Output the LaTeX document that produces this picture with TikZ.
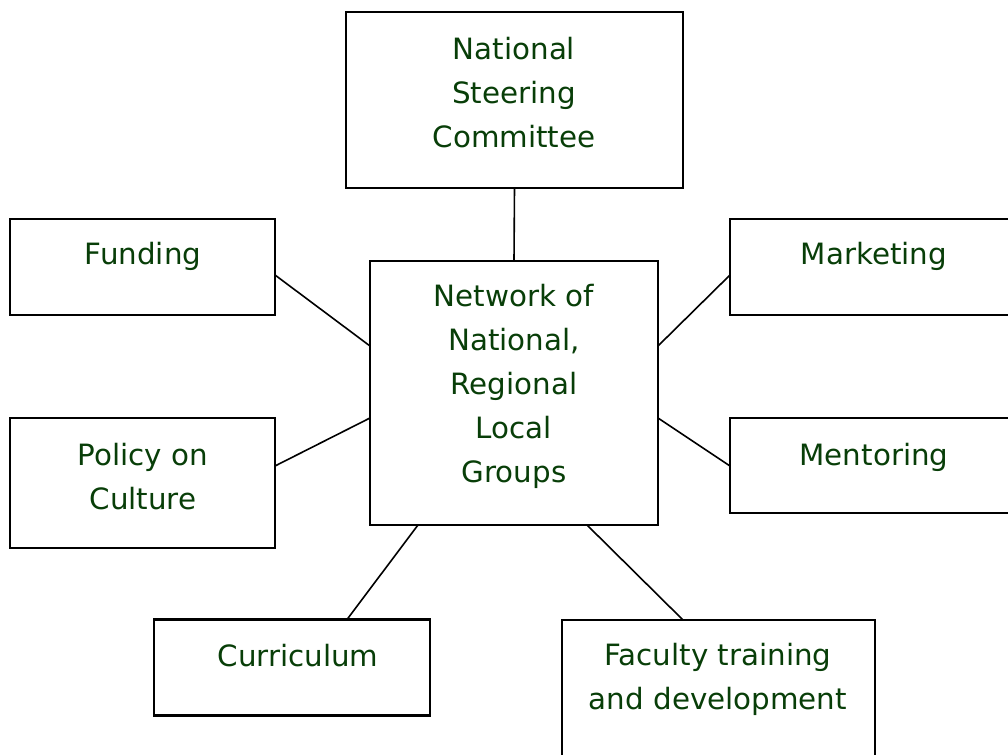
\documentclass[tikz,border=0pt]{standalone}
\usepackage{fontspec}
\setmainfont{DejaVu Sans}
\definecolor{labelgreen}{RGB}{8,62,8}
\begin{document}
\begin{tikzpicture}[x=0.75pt,y=-0.75pt,
  box/.style={draw=black,line width=1.8pt,fill=none,inner sep=0pt,outer sep=0pt},
  txt/.style={text=labelgreen,align=center,inner sep=0pt,anchor=base,
    font=\fontsize{22}{33}\selectfont},
  link/.style={draw=black,line width=1.2pt}]
\useasboundingbox (0,0) rectangle (1008,755);
\clip (0,0) rectangle (1008,755);
% boxes, sized and centred in pixel units
\node[box,minimum width=337*0.75pt,minimum height=176*0.75pt] (nsc) at (514.5,100) {};
\node[box,minimum width=288*0.75pt,minimum height=264*0.75pt] (net) at (514,393) {};
\node[box,minimum width=265*0.75pt,minimum height=96*0.75pt] (fund) at (142.5,267) {};
\node[box,minimum width=265*0.75pt,minimum height=130*0.75pt] (pol) at (142.5,483) {};
\node[box,minimum width=290*0.75pt,minimum height=96*0.75pt] (mkt) at (875,267) {};
\node[box,minimum width=290*0.75pt,minimum height=95*0.75pt] (men) at (875,465.5) {};
\node[box,minimum width=276*0.75pt,minimum height=96*0.75pt] (cur) at (292,667.5) {};
\node[box,minimum width=313*0.75pt,minimum height=170*0.75pt] (fac) at (718.5,705) {};
% labels, placed by the baseline of their last line
\node[txt] (tnsc) at (514,148) {National\\Steering\\Committee};
\node[txt] (tnet) at (514,483) {Network of\\National,\\Regional\\Local\\Groups};
\node[txt] (tfund) at (143,265) {Funding};
\node[txt] (tpol) at (143,510) {Policy on\\Culture};
\node[txt] (tmkt) at (874,265) {Marketing};
\node[txt] (tmen) at (874,466) {Mentoring};
\node[txt] (tcur) at (298,667) {Curriculum};
\node[txt] (tfac) at (718,710) {Faculty training\\and development};
% connectors
\draw[link] (nsc.south) -- (net.north);
\draw[link] (fund.east |- 0,275) -- (net.west |- 0,346);
\draw[link] (pol.east |- 0,466) -- (net.west |- 0,418);
\draw[link] (mkt.west |- 0,275) -- (net.east |- 0,346);
\draw[link] (men.west |- 0,466) -- (net.east |- 0,418);
\draw[link] (cur.north -| 347,0) -- (net.south -| 418,0);
\draw[link] (fac.north -| 683,0) -- (net.south -| 587,0);
\end{tikzpicture}
\end{document}
